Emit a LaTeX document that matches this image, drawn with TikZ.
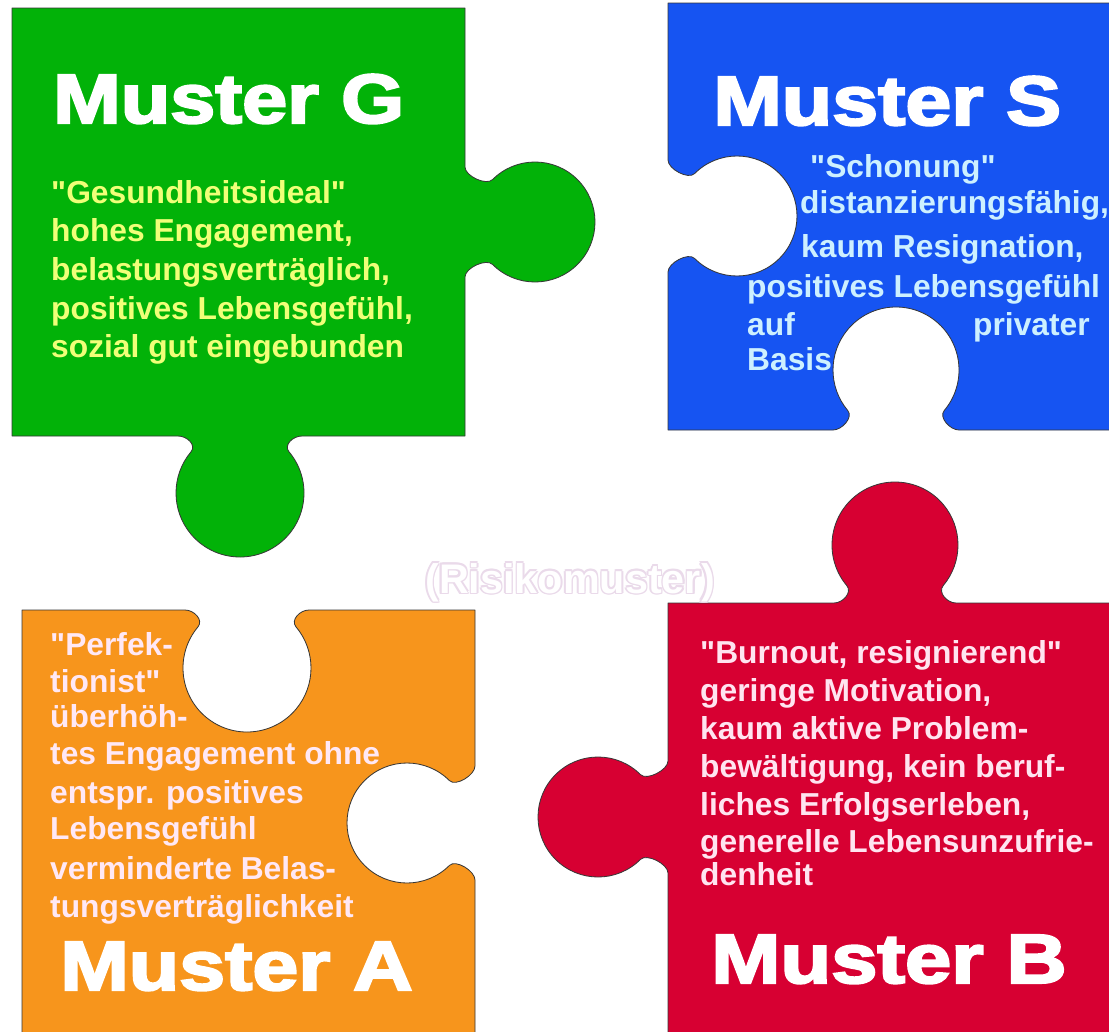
\documentclass[tikz,border=0pt]{standalone}
\usepackage{fontspec}
\setmainfont{Liberation Sans}[Ligatures=TeXOff]
\newfontfamily\headfam{Liberation Sans}[Ligatures=TeXOff,BoldFeatures={FakeBold=3}]
\usepackage{graphicx}
\usetikzlibrary{calc}
\definecolor{pgreen}{RGB}{2,178,8}
\definecolor{pblue}{RGB}{22,84,242}
\definecolor{porange}{RGB}{247,149,28}
\definecolor{pred}{RGB}{215,0,50}
\definecolor{outl}{RGB}{55,55,55}
\definecolor{tgreen}{RGB}{240,255,120}
\definecolor{tblue}{RGB}{205,240,255}
\definecolor{torange}{RGB}{255,232,245}
\definecolor{tred}{RGB}{255,228,240}
\definecolor{riskout}{RGB}{234,218,234}
\newcommand\fk{9}
% #1 Ex #2 Ey #3 alpha (edge->circle centre) #4 s (+1/-1) #5 half opening #6 centre distance #7 radius #8 junction angle
\newcommand\pzfeat[8]{%
 -- ($(#1,#2)+({#3-(#4)*90}:#5)$)
 .. controls ($(#1,#2)+({#3-(#4)*90}:#5)+({#3+(#4)*90}:\fk)$)
 and ($(#1,#2)+(#3:#6)+({#3+180+(#4)*#8}:#7)+({#3+(#4)*#8+(#4)*90}:\fk)$)
 .. ($(#1,#2)+(#3:#6)+({#3+180+(#4)*#8}:#7)$)
 arc[start angle={#3+180+(#4)*#8}, delta angle={(#4)*(360-2*#8)}, radius=#7]
 .. controls ($(#1,#2)+(#3:#6)+({#3+180-(#4)*#8}:#7)+({#3+180-(#4)*#8+(#4)*90}:\fk)$)
 and ($(#1,#2)+({#3+(#4)*90}:#5)+({#3-(#4)*90}:\fk)$)
 .. ($(#1,#2)+({#3+(#4)*90}:#5)$)%
}
\tikzset{
 piece/.style={draw=outl, line width=0.7pt, line join=round},
 body/.style={anchor=base west, inner sep=0pt, font=\fontsize{27.1}{32}\selectfont\bfseries},
 head/.style={anchor=base west, inner sep=0pt, text=white, font=\headfam\fontsize{59.6}{60}\selectfont\bfseries},
 riskf/.style={anchor=base west, inner sep=0pt, font=\fontsize{35.3}{36}\selectfont\bfseries}
}
\begin{document}
\begin{tikzpicture}[x=0.03cm,y=0.03cm,yscale=-1]
\useasboundingbox (0,0) rectangle (1109,1032);
\fill[white] (0,0) rectangle (1109,1032);
% pieces
\path[piece, fill=pgreen] (12,8) -- (465,8) \pzfeat{465}{222}{0}{1}{55}{70}{60}{45} -- (465,436) \pzfeat{240}{436}{90}{1}{62}{57}{64}{50} -- (12,436) -- cycle;
\path[piece, fill=pblue] (668,3) -- (1115,3) -- (1115,430) \pzfeat{896}{430}{-90}{-1}{63}{60}{63}{50} -- (668,430) \pzfeat{668}{216}{0}{-1}{56}{69}{60}{45} -- cycle;
\path[piece, fill=porange] (22,610) \pzfeat{247}{610}{90}{-1}{62}{58}{64}{50} -- (475,610) \pzfeat{475}{823}{180}{-1}{57}{68}{60}{45} -- (475,1040) -- (22,1040) -- cycle;
\path[piece, fill=pred] (668,603) \pzfeat{895}{603}{-90}{1}{61}{58}{63}{50} -- (1115,603) -- (1115,1040) -- (668,1040) \pzfeat{668}{817}{180}{1}{56}{70}{60}{45} -- cycle;
% headings
\node[head] (hG) at (53,123) {\scalebox{1.16}[1]{Muster G}};
\node[head] (hS) at (713,125) {\scalebox{1.18}[1]{Muster S}};
\node[head] (hA) at (60,990) {\scalebox{1.18}[1]{Muster A}};
\node[head] (hB) at (711,983) {\scalebox{1.19}[1]{Muster B}};
% green text
\begin{scope}[every node/.style={body, text=tgreen}]
\node (g1) at (51,203) {"Gesundheitsideal"};
\node (g2) at (51,241) {hohes Engagement,};
\node (g3) at (51,280) {belastungsverträglich,};
\node (g4) at (51,319) {positives Lebensgefühl,};
\node (g5) at (51,357) {sozial gut eingebunden};
\end{scope}
% blue text
\begin{scope}[every node/.style={body, text=tblue}]
\node (s1) at (810,177) {"Schonung"};
\node (s2) at (800,213) {distanzierungsfähig,};
\node (s3) at (801,257) {kaum Resignation,};
\node (s4) at (747,297) {positives Lebensgefühl};
\node (s5) at (747,335) {auf};
\node (s6) at (973,335) {privater};
\node (s7) at (747,370) {Basis};
\end{scope}
% orange text
\begin{scope}[every node/.style={body, text=torange}]
\node (a1) at (50,655) {"Perfek-};
\node (a2) at (50,692) {tionist"};
\node (a3) at (50,727) {überhöh-};
\node (a4) at (50,764) {tes Engagement ohne};
\node (a5) at (50,803) {entspr. positives};
\node (a6) at (50,839) {Lebensgefühl};
\node (a7) at (50,879) {verminderte Belas-};
\node (a8) at (50,917) {tungsverträglichkeit};
\end{scope}
% red text
\begin{scope}[every node/.style={body, text=tred}]
\node (b1) at (700,663) {"Burnout, resignierend"};
\node (b2) at (700,701) {geringe Motivation,};
\node (b3) at (700,739) {kaum aktive Problem-};
\node (b4) at (700,777) {bewältigung, kein beruf-};
\node (b5) at (700,815) {liches Erfolgserleben,};
\node (b6) at (700,852) {generelle Lebensunzufrie-};
\node (b7) at (700,885) {denheit};
\end{scope}
% centre label
\foreach \dx/\dy [count=\i] in {-1.5/0,1.5/0,0/-1.5,0/1.5,-1.1/-1.1,1.1/-1.1,-1.1/1.1,1.1/1.1}
  \node[riskf, text=riskout] (rk\i) at (425+\dx,593+\dy) {(Risikomuster)};
\node[riskf, text=white] (risk) at (425,593) {(Risikomuster)};
\end{tikzpicture}
\end{document}
